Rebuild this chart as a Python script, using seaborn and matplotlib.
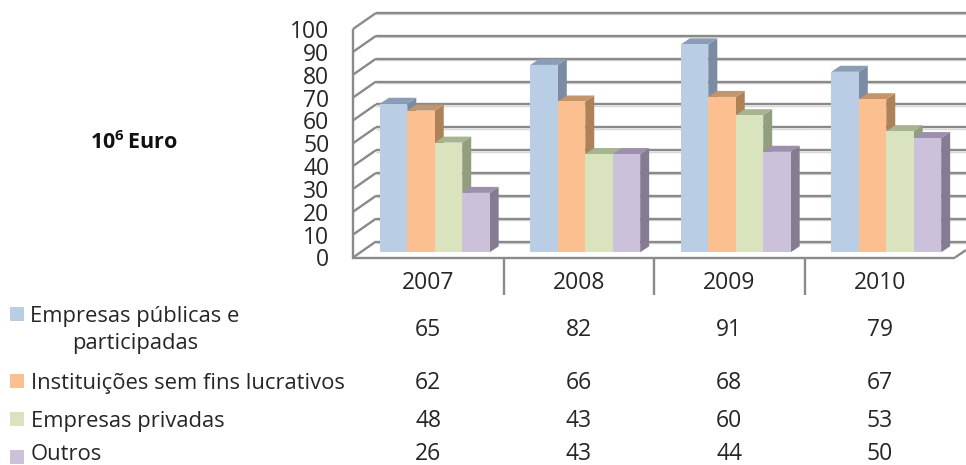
import matplotlib
matplotlib.use("Agg")
import matplotlib.pyplot as plt
import pandas as pd
import seaborn as sns
from matplotlib.patches import Polygon, Rectangle
from matplotlib.transforms import Affine2D, IdentityTransform, blended_transform_factory

years = ["2007", "2008", "2009", "2010"]
series_names = ["Empresas públicas e\nparticipadas", "Instituições sem fins lucrativos",
                "Empresas privadas", "Outros"]
empresas_publicas = [65, 82, 91, 79]
instituicoes = [62, 66, 68, 67]
empresas_privadas = [48, 43, 60, 53]
outros = [26, 43, 44, 50]
y_ticks = [0, 10, 20, 30, 40, 50, 60, 70, 80, 90, 100]

front_colors = ["#B9CDE5", "#FCC090", "#D9E4BF", "#CCC1DA"]
side_colors = ["#7A8BA2", "#AE8259", "#929F7E", "#857C92"]
top_colors = ["#8A9DB7", "#C4956B", "#A6B48F", "#9C90AC"]
grid_color = "#8A8A8A"
text_color = "#262626"

W, H = 966, 465

sns.set_style("white")
plt.rcParams["font.family"] = ["Open Sans", "DejaVu Sans"]
plt.rcParams["mathtext.fontset"] = "custom"
plt.rcParams["mathtext.bf"] = "Open Sans:bold"

all_values = [empresas_publicas, instituicoes, empresas_privadas, outros]
rows = []
for name, vals in zip(series_names, all_values):
    for year, v in zip(years, vals):
        rows.append({"ano": year, "serie": name, "valor": v})
df = pd.DataFrame(rows)

fig = plt.figure(figsize=(W / 100, H / 100), dpi=100)
ax = fig.add_axes([353 / W, 1 - 257.5 / H, 602 / W, 228.5 / H])

sns.barplot(data=df, x="ano", y="valor", hue="serie", hue_order=series_names,
            palette=front_colors, saturation=1, width=0.73, gap=0, linewidth=0,
            legend=False, ax=ax)
ax.set_xlim(-0.5, 3.5)
ax.set_ylim(0, 100)
ax.set_xlabel("")
ax.set_ylabel("")
ax.patch.set_alpha(0)
sns.despine(ax=ax, left=True, bottom=True, top=True, right=True)

# image pixels (y down) -> display
px = Affine2D().scale(1, -1).translate(0, H) + IdentityTransform()
x_px = blended_transform_factory(ax.transData, px)


def line(xs, ys, lw=1.7, color=grid_color, z=1):
    ax.plot(xs, ys, transform=px, color=color, lw=lw, clip_on=False, zorder=z,
            solid_capstyle="butt")


# back wall and left wall
for t in y_ticks:
    yf = 257.5 - t * 2.285
    line([376, 966], [yf - 16, yf - 16])
    line([376, 966], [yf - 14.6, yf - 14.6], lw=1.0, color="#D8D8D8", z=0.9)
    line([353, 376], [yf, yf - 16])

# front axis lines, floor and table dividers
line([353, 353], [29, 258.5], z=6)
line([352, 955], [257.5, 257.5], z=6)
line([955, 966], [257.5, 250], z=6)
for xb in [504, 654, 805]:
    line([xb, xb], [257.5, 295], z=6)

# extruded bars: the front face is moved into the floor, sides and tops added
shift = Affine2D().translate(6.5, 5.2)
dx, dy = 9, 6
for i, bars in enumerate(ax.containers):
    for b in bars:
        x0, y0 = ax.transData.transform((b.get_x(), 0))
        x1, y1 = ax.transData.transform((b.get_x() + b.get_width(), b.get_height()))
        x0, x1 = x0 + 6.5, x1 + 6.5
        y0, y1 = y0 + 5.2, y1 + 5.2
        side = Polygon([(x1, y0), (x1 + dx, y0 + dy), (x1 + dx, y1 + dy), (x1, y1)],
                       closed=True, fc=side_colors[i], ec="none",
                       transform=IdentityTransform(), clip_on=False, zorder=3 + i)
        top = Polygon([(x0, y1), (x0 + dx, y1 + dy), (x1 + dx, y1 + dy), (x1, y1)],
                      closed=True, fc=top_colors[i], ec="none",
                      transform=IdentityTransform(), clip_on=False, zorder=3 + i)
        ax.add_patch(side)
        ax.add_patch(top)
        b.set_transform(ax.transData + shift)
        b.set_clip_on(False)
        b.set_zorder(3.5 + i)

# tick labels
ax.set_yticks(y_ticks)
ax.set_yticklabels([str(t) for t in y_ticks], fontsize=16.5, color=text_color)
ax.tick_params(axis="y", length=0, pad=17)
ax.set_xticks(range(4))
ax.set_xticklabels(years, fontsize=16.5, color=text_color)
ax.tick_params(axis="x", length=0, pad=10)

# data table
row_y = [330, 383, 421, 454]
for vals, yy in zip(all_values, row_y):
    for k, v in enumerate(vals):
        ax.text(k, yy, str(v), transform=x_px, ha="center", va="center",
                fontsize=16.5, color=text_color, clip_on=False)

# legend keys and row names
key_y = [307, 374, 412, 450]
for c, yy in zip(front_colors, key_y):
    fig.add_artist(Rectangle((10, yy), 14, 14, transform=px, fc=c, ec="none"))
fig.text(135, 330, series_names[0], transform=px, ha="center", va="center",
         fontsize=15.8, color=text_color, linespacing=1.4)
for name, yy in zip(series_names[1:], row_y[1:]):
    fig.text(31, yy, name, transform=px, ha="left", va="center",
             fontsize=15.8, color=text_color)

fig.text(134, 143, r"$\mathbf{10^{6}\,Euro}$", transform=px, ha="center", va="center",
         fontsize=15.5, color="#111111")

fig.savefig("out.png", dpi=100)
